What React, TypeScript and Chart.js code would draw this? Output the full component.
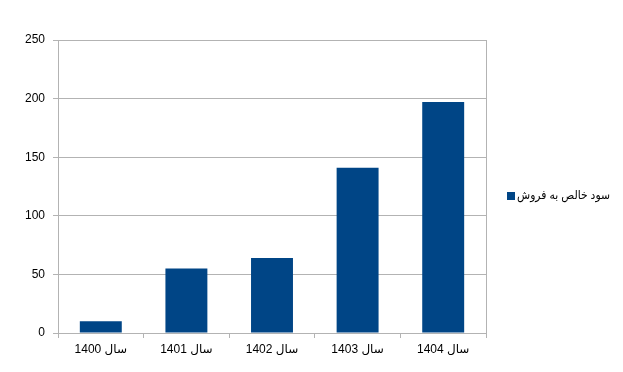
import React, { useEffect, useRef } from "react";
import { Chart, registerables } from "chart.js";

Chart.register(...registerables);

const categories = ["سال 1400", "سال 1401", "سال 1402", "سال 1403", "سال 1404"];
const seriesName = "سود خالص به فروش";
const seriesValues = [10, 55, 64, 141, 197];
const yMin = 0;
const yMax = 250;
const yStep = 50;

const FONT = "'Liberation Sans', Arial, 'DejaVu Sans', sans-serif";
const BAR = "#004586";
const GRID = "#b3b3b3";

const framePlugin = {
  id: "frame",
  afterDraw(chart: any) {
    const { ctx, chartArea } = chart;
    ctx.save();
    ctx.strokeStyle = GRID;
    ctx.lineWidth = 1;
    ctx.beginPath();
    ctx.moveTo(Math.round(chartArea.right) + 0.5, chartArea.top);
    ctx.lineTo(Math.round(chartArea.right) + 0.5, chartArea.bottom + 5);
    ctx.stroke();
    // legend
    const x = 507;
    const y = 196;
    ctx.fillStyle = BAR;
    ctx.fillRect(x, y - 4, 8, 8);
    ctx.fillStyle = "#000";
    ctx.font = "12px " + FONT;
    ctx.textBaseline = "middle";
    ctx.textAlign = "left";
    const w = ctx.measureText(seriesName).width;
    const sx = Math.min(1.3, Math.max(0.8, 93 / w));
    ctx.translate(x + 10, y);
    ctx.scale(sx, 1);
    ctx.fillText(seriesName, 0, 0);
    ctx.restore();
  },
};

export default function App() {
  const ref = useRef<HTMLCanvasElement>(null);
  useEffect(() => {
    document.body.style.margin = "0";
    const chart = new Chart(ref.current!, {
      type: "bar",
      data: {
        labels: categories,
        datasets: [
          {
            label: seriesName,
            data: seriesValues,
            backgroundColor: BAR,
            borderWidth: 0,
            barPercentage: 0.49,
            categoryPercentage: 1,
          },
        ],
      },
      options: {
        animation: false,
        responsive: false,
        maintainAspectRatio: false,
        layout: { padding: { top: 40, right: 137, left: 0, bottom: 0 } },
        plugins: { legend: { display: false }, tooltip: { enabled: false } },
        scales: {
          x: {
            offset: true,
            grid: {
              offset: true,
              drawOnChartArea: false,
              color: GRID,
              tickLength: 5,
            },
            border: { color: GRID },
            ticks: {
              color: "#000",
              font: { family: FONT, size: 12 },
              padding: 4,
              maxRotation: 0,
            },
            afterFit(scale: any) {
              scale.height = 39;
            },
          },
          y: {
            min: yMin,
            max: yMax,
            grid: { color: GRID, tickLength: 5 },
            border: { color: GRID },
            ticks: {
              stepSize: yStep,
              color: "#000",
              font: { family: FONT, size: 12 },
              padding: 8,
            },
            afterFit(scale: any) {
              scale.width = 58;
            },
          },
        },
      },
      plugins: [framePlugin],
    });
    return () => chart.destroy();
  }, []);
  return (
    <div style={{ position: "absolute", left: 0, top: 0, width: 623, height: 372, background: "#fff" }}>
      <canvas ref={ref} width={623} height={372} style={{ width: 623, height: 372 }} />
    </div>
  );
}
